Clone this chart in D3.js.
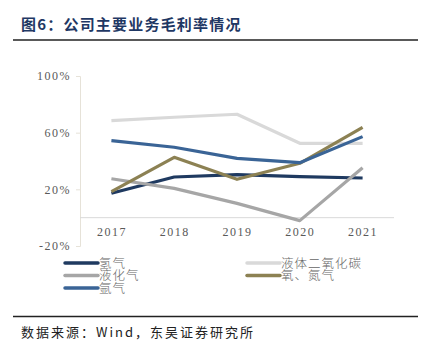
<!DOCTYPE html>
<html lang="zh">
<head>
<meta charset="UTF-8">
<title>图6 公司主要业务毛利率情况</title>
<script src="https://d3js.org/d3.v7.min.js"></script>
<style>
  body { margin: 0; background: #fff; }
  .title { font-family: "Noto Sans CJK SC", serif; font-weight: bold; font-size: 15px; fill: #1f3864; letter-spacing: 1.2px; }
  .tick text { font-family: "Liberation Serif", serif; font-size: 12px; fill: #595959; letter-spacing: 1.5px; }
  .legend text { font-family: "Noto Sans CJK SC", serif; font-size: 12.5px; fill: #666; font-weight: 300; letter-spacing: 1px; }
  .source { font-family: "Noto Sans CJK SC", serif; font-size: 13px; fill: #222; letter-spacing: 2px; }
</style>
</head>
<body>
<svg width="434" height="352"></svg>
<script>
  // data
  const years = ["2017", "2018", "2019", "2020", "2021"];
  const seriesNames = ["氢气", "液体二氧化碳", "液化气", "氧、氮气", "氩气"];
  const seriesColors = ["#1f3a60", "#d9d9d9", "#a6a6a6", "#8c8153", "#3a6496"];
  const hydrogen = [17.2, 28.7, 30.4, 29.0, 28.0];
  const co2 = [68.5, 70.9, 73.0, 52.5, 52.5];
  const lpg = [27.5, 20.7, 10.1, -2.1, 35.3];
  const oxyNitro = [18.4, 42.6, 27.1, 38.4, 63.8];
  const argon = [54.4, 49.7, 41.9, 38.8, 57.2];
  const yTicks = [-20, 20, 60, 100];

  const seriesValues = [hydrogen, co2, lpg, oxyNitro, argon];
  const svg = d3.select("svg");

  // title + rules
  svg.append("text").attr("class", "title").attr("x", 21).attr("y", 30).text("图6：公司主要业务毛利率情况");
  svg.append("line").attr("x1", 13).attr("x2", 418).attr("y1", 40).attr("y2", 40)
    .attr("stroke", "#222").attr("stroke-width", 1.5);

  const x = d3.scalePoint().domain(years).range([80, 394]).padding(0.5);
  const y = d3.scaleLinear().domain([-20, 100]).range([246, 76]);

  // y axis
  const yAxis = svg.append("g").attr("transform", "translate(80,0)")
    .call(d3.axisLeft(y).tickValues(yTicks).tickSize(4).tickPadding(5).tickFormat(d => d + "%"));
  yAxis.select(".domain").attr("stroke", "#e6e2d8");
  yAxis.selectAll(".tick line").attr("stroke", "#e6e2d8");

  // zero line + x labels
  svg.append("line").attr("x1", 80).attr("x2", 394).attr("y1", y(0)).attr("y2", y(0))
    .attr("stroke", "#d9d9d9").attr("stroke-width", 1);
  const xAxis = svg.append("g").attr("transform", `translate(0,${y(0)})`)
    .call(d3.axisBottom(x).tickSize(0).tickPadding(10));
  xAxis.select(".domain").remove();

  // lines
  const line = d3.line().x((d, i) => x(years[i])).y(d => y(d));
  seriesValues.forEach((vals, k) => {
    svg.append("path").datum(vals).attr("d", line)
      .attr("fill", "none").attr("stroke", seriesColors[k]).attr("stroke-width", 3.2)
      .attr("stroke-linejoin", "round");
  });

  // legend
  const legendPos = [[65, 263], [247, 263], [65, 275.5], [247, 275.5], [65, 288]];
  const legend = svg.append("g").attr("class", "legend");
  seriesNames.forEach((name, k) => {
    const [lx, ly] = legendPos[k];
    legend.append("line").attr("x1", lx).attr("x2", lx + 33).attr("y1", ly).attr("y2", ly)
      .attr("stroke", seriesColors[k]).attr("stroke-width", 3.5).attr("stroke-linecap", "round");
    legend.append("text").attr("x", lx + 34).attr("y", ly + 4.5).text(name);
  });

  // source
  svg.append("line").attr("x1", 13).attr("x2", 418).attr("y1", 316.5).attr("y2", 316.5)
    .attr("stroke", "#222").attr("stroke-width", 1.5);
  svg.append("text").attr("class", "source").attr("x", 21).attr("y", 337).text("数据来源：Wind，东吴证券研究所");
</script>
</body>
</html>
